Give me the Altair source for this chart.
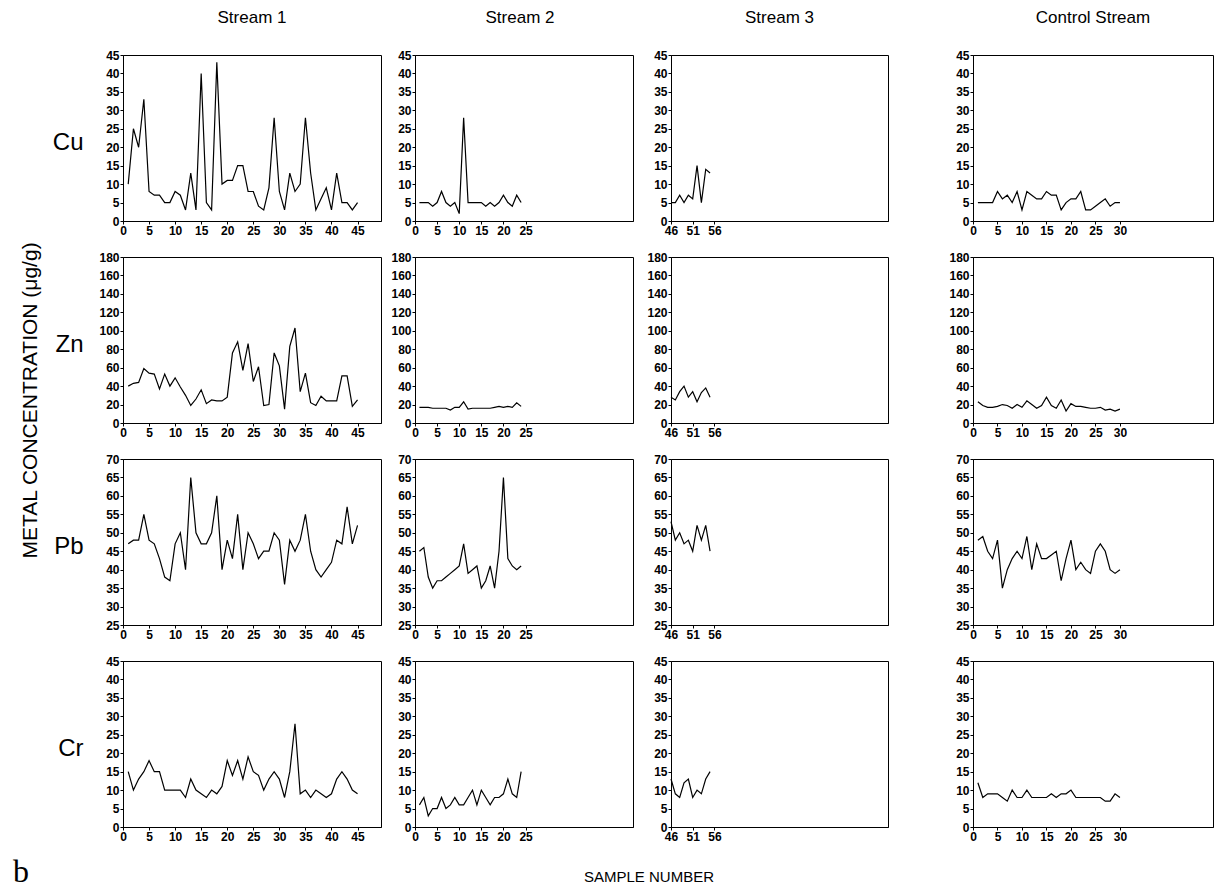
import altair as alt
import pandas as pd

streams = ["Stream 1", "Stream 2", "Stream 3", "Control Stream"]
metals = ["Cu", "Zn", "Pb", "Cr"]

samples = {
    "Stream 1": list(range(1, 46)),
    "Stream 2": list(range(1, 25)),
    "Stream 3": list(range(46, 56)),
    "Control Stream": list(range(1, 31)),
}

# Stream 1
cu_s1 = [10, 25, 20, 33, 8, 7, 7, 5, 5, 8, 7, 3, 13, 3, 40, 5, 3, 43, 10, 11, 11, 15, 15, 8, 8,
         4, 3, 9, 28, 8, 3, 13, 8, 10, 28, 13, 3, 6, 9, 3, 13, 5, 5, 3, 5]
zn_s1 = [40, 43, 44, 59, 54, 53, 37, 53, 40, 49, 39, 30, 19, 26, 36, 21, 25, 24, 24, 28, 76, 88, 57, 86, 45,
         61, 19, 20, 76, 62, 15, 83, 103, 34, 54, 22, 19, 29, 24, 24, 24, 51, 51, 18, 25]
pb_s1 = [47, 48, 48, 55, 48, 47, 43, 38, 37, 47, 50, 40, 65, 50, 47, 47, 50, 60, 40, 48, 43, 55, 40, 50, 47,
         43, 45, 45, 50, 48, 36, 48, 45, 48, 55, 45, 40, 38, 40, 42, 48, 47, 57, 47, 52]
cr_s1 = [15, 10, 13, 15, 18, 15, 15, 10, 10, 10, 10, 8, 13, 10, 9, 8, 10, 9, 11, 18, 14, 18, 13, 19, 15,
         14, 10, 13, 15, 13, 8, 15, 28, 9, 10, 8, 10, 9, 8, 9, 13, 15, 13, 10, 9]
# Stream 2
cu_s2 = [5, 5, 5, 4, 5, 8, 5, 4, 5, 2, 28, 5, 5, 5, 5, 4, 5, 4, 5, 7, 5, 4, 7, 5]
zn_s2 = [17, 17, 17, 16, 16, 16, 16, 14, 17, 17, 23, 15, 16, 16, 16, 16, 16, 17, 18, 17, 18, 17, 22, 18]
pb_s2 = [45, 46, 38, 35, 37, 37, 38, 39, 40, 41, 47, 39, 40, 41, 35, 37, 41, 35, 45, 65, 43, 41, 40, 41]
cr_s2 = [6, 8, 3, 5, 5, 8, 5, 6, 8, 6, 6, 8, 10, 6, 10, 8, 6, 8, 8, 9, 13, 9, 8, 15]
# Stream 3
cu_s3 = [5, 5, 7, 5, 7, 6, 15, 5, 14, 13]
zn_s3 = [28, 25, 34, 40, 28, 34, 23, 33, 38, 28]
pb_s3 = [53, 48, 50, 47, 48, 45, 52, 48, 52, 45]
cr_s3 = [13, 9, 8, 12, 13, 8, 10, 9, 13, 15]
# Control stream
cu_c = [5, 5, 5, 5, 8, 6, 7, 5, 8, 3, 8, 7, 6, 6, 8, 7, 7, 3, 5, 6, 6, 8, 3, 3, 4, 5, 6, 4, 5, 5]
zn_c = [23, 19, 17, 17, 18, 20, 19, 16, 20, 17, 24, 20, 16, 19, 28, 19, 16, 25, 13, 21, 18, 18, 17, 16, 16,
        17, 14, 15, 13, 15]
pb_c = [48, 49, 45, 43, 48, 35, 40, 43, 45, 43, 49, 40, 47, 43, 43, 44, 45, 37, 43, 48, 40, 42, 40, 39, 45,
        47, 45, 40, 39, 40]
cr_c = [12, 8, 9, 9, 9, 8, 7, 10, 8, 8, 10, 8, 8, 8, 8, 9, 8, 9, 9, 10, 8, 8, 8, 8, 8, 8, 7, 7, 9, 8]

values = {
    ("Stream 1", "Cu"): cu_s1, ("Stream 1", "Zn"): zn_s1, ("Stream 1", "Pb"): pb_s1, ("Stream 1", "Cr"): cr_s1,
    ("Stream 2", "Cu"): cu_s2, ("Stream 2", "Zn"): zn_s2, ("Stream 2", "Pb"): pb_s2, ("Stream 2", "Cr"): cr_s2,
    ("Stream 3", "Cu"): cu_s3, ("Stream 3", "Zn"): zn_s3, ("Stream 3", "Pb"): pb_s3, ("Stream 3", "Cr"): cr_s3,
    ("Control Stream", "Cu"): cu_c, ("Control Stream", "Zn"): zn_c, ("Control Stream", "Pb"): pb_c,
    ("Control Stream", "Cr"): cr_c,
}

x_ticks = {
    "Stream 1": [0, 5, 10, 15, 20, 25, 30, 35, 40, 45],
    "Stream 2": [0, 5, 10, 15, 20, 25],
    "Stream 3": [46, 51, 56],
    "Control Stream": [0, 5, 10, 15, 20, 25, 30],
}
x_domain = {
    "Stream 1": [0, 49.5],
    "Stream 2": [0, 49.3],
    "Stream 3": [46, 96],
    "Control Stream": [0, 49],
}
y_ticks = {
    "Cu": list(range(0, 46, 5)),
    "Zn": list(range(0, 181, 20)),
    "Pb": list(range(25, 71, 5)),
    "Cr": list(range(0, 46, 5)),
}
y_domain = {"Cu": [0, 45], "Zn": [0, 180], "Pb": [25, 70], "Cr": [0, 45]}

widths = {"Stream 1": 258, "Stream 2": 218, "Stream 3": 217, "Control Stream": 240}
H = 166
title_dx = {"Stream 1": 0, "Stream 2": -4, "Stream 3": 0, "Control Stream": 0}


def panel(stream, metal):
    df = pd.DataFrame({"sample": samples[stream], "value": values[(stream, metal)]})
    if stream == "Stream 1":
        yaxis = alt.Axis(values=y_ticks[metal], title=metal, titleAngle=0, titleAlign="right",
                         titleBaseline="middle", titleX=-40, titleY=H / 2 + 4, titleFontSize=24,
                         titleFontWeight="normal", titleFont="Liberation Sans", titleColor="black")
    else:
        yaxis = alt.Axis(values=y_ticks[metal], title=None)
    ch = alt.Chart(df).mark_line(color="black", strokeWidth=1.2).encode(
        x=alt.X("sample:Q", scale=alt.Scale(domain=x_domain[stream], nice=False, zero=False),
                axis=alt.Axis(values=x_ticks[stream], title=None)),
        y=alt.Y("value:Q", scale=alt.Scale(domain=y_domain[metal], nice=False, zero=False), axis=yaxis),
    ).properties(width=widths[stream], height=H)
    if metal == "Cu":
        ch = ch.properties(title=alt.TitleParams(stream, fontSize=17, fontWeight="normal",
                                                 font="Liberation Sans", offset=22, dx=title_dx[stream],
                                                 color="black"))
    return ch


cols = [alt.vconcat(*[panel(s, m) for m in metals], spacing=13) for s in streams]
streams_12 = alt.hconcat(cols[0], cols[1], spacing=8)
streams_123 = alt.hconcat(streams_12, cols[2], spacing=12)

main = alt.hconcat(
    streams_123, cols[3], spacing=59,
    title=alt.TitleParams("METAL CONCENTRATION (μg/g)", orient="left", anchor="middle", fontSize=21,
                          fontWeight="normal", font="Liberation Sans", color="black", offset=11, dx=25),
)

b_text = alt.Chart(pd.DataFrame({"label": ["b"]})).mark_text(
    font="Liberation Serif", fontSize=32, align="left", baseline="alphabetic", color="black"
).encode(text="label:N", x=alt.value(-110), y=alt.value(39))
s_text = alt.Chart(pd.DataFrame({"label": ["SAMPLE NUMBER"]})).mark_text(
    font="Liberation Sans", fontSize=15, align="center", baseline="alphabetic", color="black"
).encode(text="label:N", x=alt.value(526), y=alt.value(39))
footer = alt.layer(b_text, s_text).properties(width=1000, height=45,
                                              view=alt.ViewBackground(strokeOpacity=0))

chart = alt.vconcat(main, footer, spacing=0).configure_view(
    stroke="black", strokeWidth=1
).configure_axis(
    domainColor="black", tickColor="black", labelColor="black", labelFont="Liberation Sans",
    labelFontSize=12, labelFontWeight="bold", tickSize=3, labelPadding=1, grid=False,
    labelFlush=False, labelOverlap=False, domainWidth=1, tickWidth=1
).properties(padding={"left": 5, "top": 0, "right": 5, "bottom": 5})

chart.save("out.html", embed_options={"renderer": "svg", "actions": False})
